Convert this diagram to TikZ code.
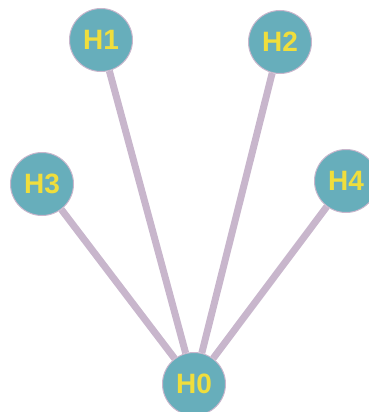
\documentclass[tikz,border=0pt]{standalone}
\usepackage{fontspec}
\setmainfont{Liberation Sans}
\usetikzlibrary{calc}
\definecolor{hfill}{HTML}{67AEBB}
\definecolor{hedge}{HTML}{C8B6CC}
\definecolor{htext}{HTML}{F0DE3C}
\tikzset{host/.style={circle,fill=hfill,draw=hedge,line width=1pt,minimum size=63pt,inner sep=0pt,
    text=htext,font=\fontsize{28}{28}\selectfont\bfseries}}
\begin{document}
\begin{tikzpicture}[x=1pt,y=-1pt]
                        \useasboundingbox (0,0) rectangle (369,412);
                        \node[host] (h1) at (101,40) {H1};
                        \node[host] (h2) at (280,42) {H2};
                        \node[host] (h3) at (42,184) {H3};
                        \node[host] (h4) at (346,181) {H4};
                        \node[host] (h0) at (194,384) {H0};
                        \draw[hedge,line width=7pt] (h0) -- (h1);
                        \draw[hedge,line width=7pt] (h0) -- (h2);
                        \draw[hedge,line width=7pt] (h0) -- (h3);
                        \draw[hedge,line width=7pt] (h0) -- (h4);
                    \end{tikzpicture}
\end{document}
